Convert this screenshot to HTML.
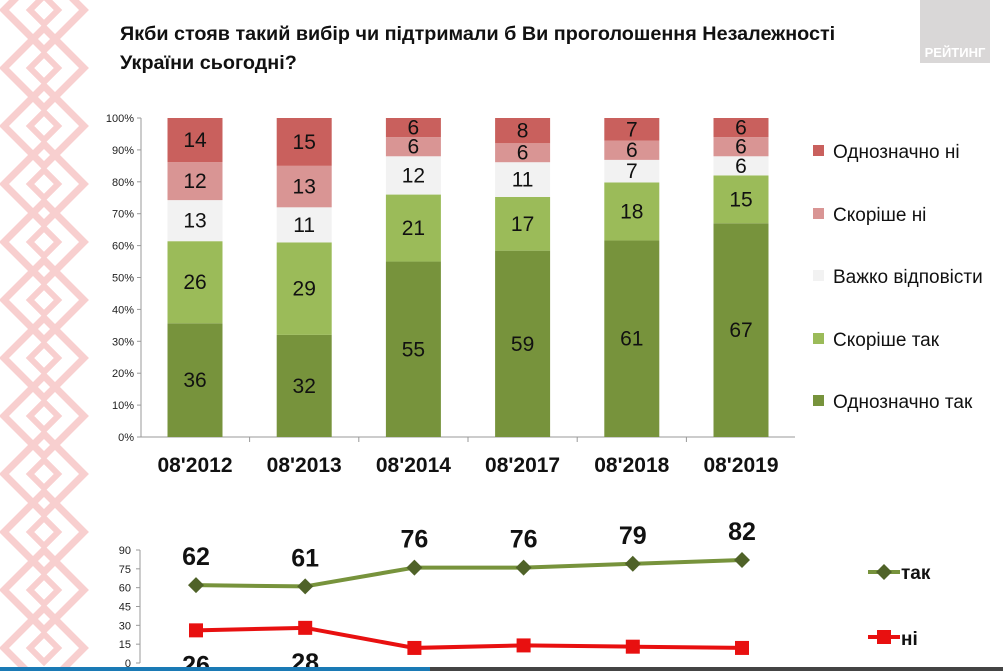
<!DOCTYPE html>
<html><head><meta charset="utf-8"><style>
body{margin:0;background:#fff;}
svg{display:block;font-family:"Liberation Sans","DejaVu Sans",sans-serif;}
.n{font-family:"Liberation Sans Narrow","Liberation Sans",sans-serif;}
</style></head><body>
<svg id="c" width="1003" height="671" viewBox="0 0 1003 671">
<g id="deco"></g>
<rect x="920" y="0" width="70" height="63" fill="#d9d7d7"/>
<text x="955" y="57" font-size="13" font-weight="bold" fill="#fff" text-anchor="middle">РЕЙТИНГ</text>
<text x="120" y="40" font-size="19.8" font-weight="bold" fill="#111">Якби стояв такий вибір чи підтримали б Ви проголошення Незалежності</text>
<text x="120" y="69" font-size="19.8" font-weight="bold" fill="#111">України сьогодні?</text>
<g id="bars"></g>
<g id="lines"></g>
<rect x="0" y="667" width="1003" height="4" fill="#444"/>
<rect x="0" y="667" width="430" height="4" fill="#1a7ab5"/>
</svg>
<script>
const categories=["08'2012","08'2013","08'2014","08'2017","08'2018","08'2019"];
const defYes=[36,32,55,59,61,67];
const ratherYes=[26,29,21,17,18,15];
const hard=[13,11,12,11,7,6];
const ratherNo=[12,13,6,6,6,6];
const defNo=[14,15,6,8,7,6];
const seriesNames=["Однозначно так","Скоріше так","Важко відповісти","Скоріше ні","Однозначно ні"];
const yTicks=[0,10,20,30,40,50,60,70,80,90,100];
const yesTotal=[62,61,76,76,79,82];
const noTotal=[26,28,12,14,13,12];
const lineTicks=[0,15,30,45,60,75,90];

const NS="http://www.w3.org/2000/svg";
function mk(p,t,a,txt){const e=document.createElementNS(NS,t);for(const k in a)e.setAttribute(k,a[k]);if(txt!==undefined)e.textContent=txt;p.appendChild(e);return e;}

const deco=document.getElementById('deco');
for(let i=0;i<12;i++){
  const cy=i*58+10;
  const big=mk(deco,'path',{d:`M4 ${cy} L44 ${cy-40} L84 ${cy} L44 ${cy+40} Z`,fill:'none',stroke:'#f8cfcf','stroke-width':7});
  
  
  const sm=mk(deco,'path',{d:`M30 ${cy} L44 ${cy-14} L58 ${cy} L44 ${cy+14} Z`,fill:'none',stroke:'#f8cfcf','stroke-width':6});
  
  
}

const g=document.getElementById('bars');
const x0=141,x1=795,yb=437,yt=118;
const bx=i=>195+i*109.2;
const by=v=>yb-(v/100)*(yb-yt);
mk(g,'line',{x1:x0,y1:yt,x2:x0,y2:yb,stroke:'#999'});
mk(g,'line',{x1:x0,y1:yb,x2:x1,y2:yb,stroke:'#999'});
yTicks.forEach(t=>{
  mk(g,'line',{x1:x0-4,y1:by(t),x2:x0,y2:by(t),stroke:'#999'});
  const e=mk(g,'text',{x:x0-7,y:by(t)+4,'font-size':11,'text-anchor':'end',fill:'#222'},t+'%');
  
  
});
for(let i=1;i<categories.length;i++){mk(g,'line',{x1:bx(i)-54.6,y1:yb,x2:bx(i)-54.6,y2:yb+5,stroke:'#999'});}
const series=[defYes,ratherYes,hard,ratherNo,defNo];
const colors=['#77933c','#9bbb59','#f2f2f2','#d99594','#c9605d'];
categories.forEach((c,i)=>{
  const tot=series.reduce((a,s)=>a+s[i],0);
  let acc=0;
  series.forEach((s,k)=>{
    const lo=acc/tot*100,hi=(acc+s[i])/tot*100;acc+=s[i];
    const r=mk(g,'rect',{x:bx(i)-27.5,y:by(hi),width:55,height:by(lo)-by(hi),fill:colors[k]});
    
    
    const t=mk(g,'text',{x:bx(i),y:(by(hi)+by(lo))/2+7,'font-size':21,'text-anchor':'middle',fill:'#111',class:'n'},s[i]);
    
    
  });
  const l=mk(g,'text',{x:bx(i),y:472,'font-size':21,'font-weight':'bold','text-anchor':'middle',fill:'#111',class:'n'},c);
  
  
});
const legY=[151,214,276,339,401];
[4,3,2,1,0].forEach((k,j)=>{
  const r=mk(g,'rect',{x:813,y:legY[j]-6,width:11,height:11,fill:colors[k]});
  
  
  const t=mk(g,'text',{x:833,y:legY[j]+7,'font-size':19,fill:'#111',class:'n'},seriesNames[k]);
  
  
});

const L=document.getElementById('lines');
const ly0=663,ly90=550;
const ly=v=>ly0-(v/90)*(ly0-ly90);
const lx=i=>196+i*109.2;
mk(L,'line',{x1:140,y1:ly90,x2:140,y2:ly0,stroke:'#999'});
lineTicks.forEach(t=>{
  mk(L,'line',{x1:136,y1:ly(t),x2:140,y2:ly(t),stroke:'#999'});
  const e=mk(L,'text',{x:131,y:ly(t)+4,'font-size':11,'text-anchor':'end',fill:'#222'},t);
  
  
});
const gl=mk(L,'polyline',{points:yesTotal.map((v,i)=>lx(i)+','+ly(v)).join(' '),fill:'none',stroke:'#77933c','stroke-width':4});


const rl=mk(L,'polyline',{points:noTotal.map((v,i)=>lx(i)+','+ly(v)).join(' '),fill:'none',stroke:'#e81010','stroke-width':4});


yesTotal.forEach((v,i)=>{
  const x=lx(i),y=ly(v);
  const d=mk(L,'path',{d:`M${x-8} ${y} L${x} ${y-8} L${x+8} ${y} L${x} ${y+8}Z`,fill:'#4f6228'});
  
  
  const t=mk(L,'text',{x:x,y:y-20,'font-size':25,'font-weight':'bold','text-anchor':'middle',fill:'#111',class:'n'},v);
  
  
});
noTotal.forEach((v,i)=>{
  const x=lx(i),y=ly(v);
  const d=mk(L,'rect',{x:x-7,y:y-7,width:14,height:14,fill:'#e81010'});
  
  
  const t=mk(L,'text',{x:x,y:y+43,'font-size':25,'font-weight':'bold','text-anchor':'middle',fill:'#111',class:'n'},v);
  
  
});
mk(L,'line',{x1:868,y1:572,x2:900,y2:572,stroke:'#77933c','stroke-width':4});
mk(L,'path',{d:'M876 572 L884 564 L892 572 L884 580Z',fill:'#4f6228'});
const t1=mk(L,'text',{x:901,y:579,'font-size':19,'font-weight':'bold',fill:'#111',class:'n'},'так');


mk(L,'line',{x1:868,y1:637,x2:900,y2:637,stroke:'#e81010','stroke-width':4});
mk(L,'rect',{x:877,y:630,width:14,height:14,fill:'#e81010'});
const t2=mk(L,'text',{x:901,y:645,'font-size':19,'font-weight':'bold',fill:'#111',class:'n'},'ні');


</script>
</body></html>
